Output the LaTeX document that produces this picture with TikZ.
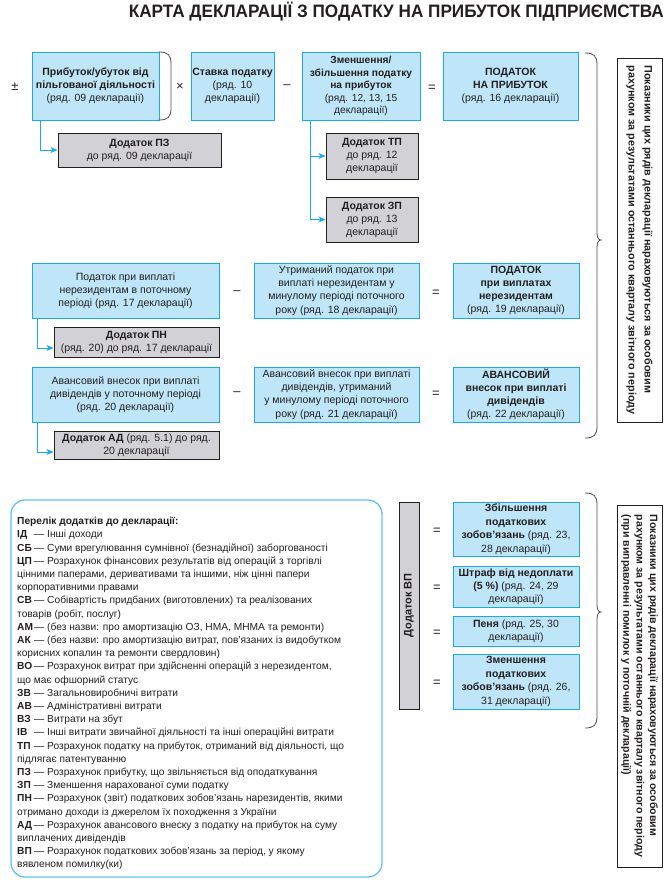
\documentclass[tikz,border=0pt]{standalone}
\usepackage{fontspec}
\setmainfont{Liberation Sans}
\usetikzlibrary{arrows.meta}
\definecolor{lightblue}{RGB}{190,230,248}
\definecolor{cyanline}{RGB}{28,170,226}
\definecolor{listline}{RGB}{95,195,238}
\definecolor{grayfill}{RGB}{210,209,214}
\definecolor{darkline}{RGB}{35,31,32}
\definecolor{textc}{RGB}{35,31,32}
\definecolor{bracec}{RGB}{80,80,80}
\newcommand{\ab}[1]{\makebox[17pt][l]{\textbf{#1}}}
\begin{document}
\begin{tikzpicture}[x=1pt,y=-1pt,
  bluebox/.style={draw=cyanline, fill=lightblue, line width=0.8pt, inner sep=0pt, align=center, text=textc, font=\fontsize{10.5}{13.2}\selectfont},
  graybox/.style={draw=darkline, fill=grayfill, line width=1pt, inner sep=0pt, align=center, text=textc, font=\fontsize{10.5}{13}\selectfont},
  notebox/.style={draw=darkline, line width=0.9pt, inner sep=0pt, align=left, rotate=-90, text=textc, font=\bfseries\fontsize{10.8}{16}\selectfont},
  op/.style={text=textc, font=\fontsize{13}{13}\selectfont, inner sep=0pt},
  arr/.style={draw=cyanline, line width=0.9pt, -{Stealth[length=7pt,width=6pt,inset=2pt]}},
  brc/.style={draw=bracec, line width=0.8pt}]
\useasboundingbox (0,0) rectangle (669,892);

% title
\node[anchor=base east, inner sep=0pt, text=textc, font=\bfseries\fontsize{18}{18}\selectfont] (title) at (664,17) {\scalebox{0.953}[1]{КАРТА ДЕКЛАРАЦІЇ З ПОДАТКУ НА ПРИБУТОК ПІДПРИЄМСТВА}};

% row 1
\node[op] (pm) at (15,87) {±};
\node[bluebox, minimum width=127pt, minimum height=68pt] (b1) at (95.5,86) {\textbf{Прибуток/убуток від}\\\textbf{пільгованої діяльності}\\(ряд. 09 декларації)};
\node[op] (mul) at (180,87) {×};
\node[bluebox, minimum width=83pt, minimum height=68pt] (b2) at (232.5,86) {\textbf{Ставка податку}\\(ряд. 10\\декларації)};
\node[op] (mi1) at (287,87) {–};
\node[bluebox, minimum width=118pt, minimum height=68pt, font=\fontsize{10.2}{12.6}\selectfont] (b3) at (361,86) {\textbf{Зменшення/}\\\textbf{збільшення податку}\\\textbf{на прибуток}\\(ряд. 12, 13, 15\\декларації)};
\node[op] (eq1) at (432,88) {=};
\node[bluebox, minimum width=135pt, minimum height=68pt] (b4) at (510.5,86) {\textbf{ПОДАТОК}\\\textbf{НА ПРИБУТОК}\\(ряд. 16 декларації)};

\draw[brc] (159,52) .. controls (168,52) and (171,55) .. (171,64) -- (171,108) .. controls (171,117) and (168,120) .. (159,120);

\node[graybox, minimum width=163pt, minimum height=34pt] (pz) at (139.5,150) {\textbf{Додаток ПЗ}\\до ряд. 09 декларації};
\node[graybox, minimum width=92pt, minimum height=46pt] (tp) at (372,156) {\textbf{Додаток ТП}\\до ряд. 12\\декларації};
\node[graybox, minimum width=92pt, minimum height=45pt] (zp) at (372,219.5) {\textbf{Додаток ЗП}\\до ряд. 13\\декларації};

\draw[arr] ([xshift=9pt]b1.south west) |- (pz.west);
\draw[arr] ([xshift=9pt]b3.south west) |- (tp.west);
\draw[arr] ([xshift=9pt]b3.south west) |- (zp.west);

% row 2
\node[bluebox, minimum width=187pt, minimum height=55pt] (b5) at (125.5,290.5) {Податок при виплаті\\нерезидентам в поточному\\періоді (ряд. 17 декларації)};
\node[op] (mi2) at (237,293) {–};
\node[bluebox, minimum width=165pt, minimum height=55pt] (b6) at (336.5,290.5) {Утриманий податок при\\виплаті нерезидентам у\\минулому періоді поточного\\року (ряд. 18 декларації)};
\node[op] (eq2) at (436,293) {=};
\node[bluebox, minimum width=126pt, minimum height=55pt] (b7) at (516,290.5) {\textbf{ПОДАТОК}\\\textbf{при виплатах}\\\textbf{нерезидентам}\\(ряд. 19 декларації)};
\node[graybox, minimum width=165pt, minimum height=30pt] (pn) at (136.5,342) {\textbf{Додаток ПН}\\(ряд. 20) до ряд. 17 декларації};
\draw[arr] ([xshift=6pt]b5.south west) |- ([yshift=-6pt]pn.west);

% row 3
\node[bluebox, minimum width=187pt, minimum height=55pt] (b8) at (125.5,394.5) {Авансовий внесок при виплаті\\дивідендів у поточному періоді\\(ряд. 20 декларації)};
\node[op] (mi3) at (237,394) {–};
\node[bluebox, minimum width=165pt, minimum height=55pt] (b9) at (336.5,394.5) {Авансовий внесок при виплаті\\дивідендів, утриманий\\у минулому періоді поточного\\року (ряд. 21 декларації)};
\node[op] (eq3) at (436,394) {=};
\node[bluebox, minimum width=126pt, minimum height=55pt] (b10) at (516,394.5) {\textbf{АВАНСОВИЙ}\\\textbf{внесок при виплаті}\\\textbf{дивідендів}\\(ряд. 22 декларації)};
\node[graybox, minimum width=165pt, minimum height=28pt] (ad) at (136.5,445) {\textbf{Додаток АД} (ряд. 5.1) до ряд.\\20 декларації};
\draw[arr] ([xshift=6pt]b8.south west) |- ([yshift=-7pt]ad.west);

% brace 1
\draw[brc] (585,53) .. controls (594,53) and (597,56) .. (597,65) -- (597,232) .. controls (597,237) and (598,240) .. (601,240) .. controls (598,240) and (597,243) .. (597,248) -- (597,426) .. controls (597,435) and (594,438) .. (585,438);
\node[notebox, minimum width=364pt, minimum height=45pt] (r1) at (639.5,240) {Показники цих рядів декларації нараховуються за особовим\\рахунком за результатами останнього кварталу звітного періоду};

% list
\node[draw=listline, line width=1.3pt, rounded corners=14pt, minimum width=371pt, minimum height=377pt, inner sep=0pt] (list) at (196.5,688.5) {};
\node[anchor=north west, inner sep=0pt, align=left, text=textc, font=\fontsize{10.2}{13.2}\selectfont] (listtext) at (17,517) {%
\textbf{Перелік додатків до декларації:}\\
\ab{ІД}— Інші доходи\\
\ab{СБ}— Суми врегулювання сумнівної (безнадійної) заборгованості\\
\ab{ЦП}— Розрахунок фінансових результатів від операцій з торгівлі\\
цінними паперами, деривативами та іншими, ніж цінні папери\\
корпоративними правами\\
\ab{СВ}— Собівартість придбаних (виготовлених) та реалізованих\\
товарів (робіт, послуг)\\
\ab{АМ}— (без назви: про амортизацію ОЗ, НМА, МНМА та ремонти)\\
\ab{АК}— (без назви: про амортизацію витрат, пов’язаних із видобутком\\
корисних копалин та ремонти свердловин)\\
\ab{ВО}— Розрахунок витрат при здійсненні операцій з нерезидентом,\\
що має офшорний статус\\
\ab{ЗВ}— Загальновиробничі витрати\\
\ab{АВ}— Адміністративні витрати\\
\ab{ВЗ}— Витрати на збут\\
\ab{ІВ}— Інші витрати звичайної діяльності та інші операційні витрати\\
\ab{ТП}— Розрахунок податку на прибуток, отриманий від діяльності, що\\
підлягає патентуванню\\
\ab{ПЗ}— Розрахунок прибутку, що звільняється від оподаткування\\
\ab{ЗП}— Зменшення нарахованої суми податку\\
\ab{ПН}— Розрахунок (звіт) податкових зобов’язань нарезидентів, якими\\
отримано доходи із джерелом їх походження з України\\
\ab{АД}— Розрахунок авансового внеску з податку на прибуток на суму\\
виплачених дивідендів\\
\ab{ВП}— Розрахунок податкових зобов’язань за період, у якому\\
вявленом помилку(ки)};

% lower right
\node[graybox, rotate=90, minimum width=207pt, minimum height=20pt, font=\fontsize{11}{13}\selectfont] (vp) at (409,605.5) {\textbf{Додаток ВП}};
\node[op] (eq4) at (437,531) {=};
\node[op] (eq5) at (437,588) {=};
\node[op] (eq6) at (437,633) {=};
\node[op] (eq7) at (437,683) {=};
\node[bluebox, minimum width=126pt, minimum height=54pt, font=\fontsize{10.5}{13.5}\selectfont] (bA) at (516,529) {\textbf{Збільшення}\\\textbf{податкових}\\\textbf{зобов'язань} (ряд. 23,\\28 декларації)};
\node[bluebox, minimum width=126pt, minimum height=41pt] (bB) at (516,586.5) {\textbf{Штраф від недоплати}\\\textbf{(5 \%)} (ряд. 24, 29\\декларації)};
\node[bluebox, minimum width=126pt, minimum height=30pt] (bC) at (516,631) {\textbf{Пеня} (ряд. 25, 30\\декларації)};
\node[bluebox, minimum width=126pt, minimum height=55pt, font=\fontsize{10.5}{13.5}\selectfont] (bD) at (516,681.5) {\textbf{Зменшення}\\\textbf{податкових}\\\textbf{зобов'язань} (ряд. 26,\\31 декларації)};

% brace 2
\draw[brc] (585,493) .. controls (594,493) and (597,496) .. (597,505) -- (597,604) .. controls (597,609) and (598,612) .. (601,612) .. controls (598,612) and (597,615) .. (597,620) -- (597,716) .. controls (597,725) and (594,728) .. (585,728);
\node[notebox, minimum width=362pt, minimum height=45pt, font=\bfseries\fontsize{10.6}{13.3}\selectfont] (r2) at (639.5,686) {Показники цих рядів декларації нараховуються за особовим\\рахунком за результатами останнього кварталу звітного періоду\\(при виправленні помилок у поточній декларації)};
\end{tikzpicture}
\end{document}
